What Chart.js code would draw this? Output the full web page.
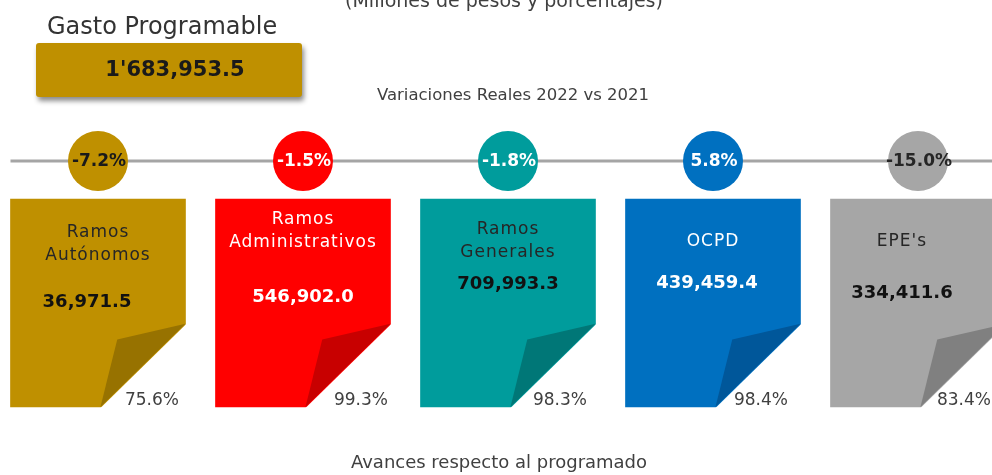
<!DOCTYPE html>
<html>
<head>
<meta charset="utf-8">
<script src="https://cdn.jsdelivr.net/npm/chart.js@4.4.1/dist/chart.umd.min.js"></script>
<style>
  html, body { margin: 0; padding: 0; background: #fff; overflow: hidden; }
  #wrap { position: relative; width: 992px; height: 475px; font-family: "DejaVu Sans", sans-serif; }
  #chart { position: absolute; left: 0; top: 0; }
  .t { position: absolute; white-space: nowrap; line-height: 1; color: #404040; }
  #box {
    position: absolute; left: 36px; top: 43px; width: 266px; height: 54px;
    background: #bf9000; border-radius: 3px;
    box-shadow: 2px 4px 5px rgba(0, 0, 0, 0.45);
  }
</style>
</head>
<body>
<div id="wrap">
  <canvas id="chart" width="992" height="475"></canvas>
  <div class="t" id="units" style="left:0;width:1008px;text-align:center;top:-9px;font-size:19px;">(Millones de pesos y porcentajes)</div>
  <div class="t" style="left:47px;top:14px;font-size:24px;color:#333;">Gasto Programable</div>
  <div id="box"></div>
  <div class="t" id="total" style="left:36px;width:278px;text-align:center;top:59px;font-size:21px;font-weight:bold;color:#1a1a1a;"></div>
  <div class="t" style="left:0;width:1026px;text-align:center;top:87px;font-size:16.5px;">Variaciones Reales 2022 vs 2021</div>
  <div class="t" style="left:0;width:998px;text-align:center;top:453px;font-size:18px;">Avances respecto al programado</div>
</div>
<script>
// datos
const categories = ["Ramos Autónomos", "Ramos Administrativos", "Ramos Generales", "OCPD", "EPE's"];
const nameLines = [["Ramos", "Autónomos"], ["Ramos", "Administrativos"], ["Ramos", "Generales"], ["OCPD"], ["EPE's"]];
const amounts = [36971.5, 546902.0, 709993.3, 439459.4, 334411.6];
const realVariation = [-7.2, -1.5, -1.8, 5.8, -15.0];
const progress = [75.6, 99.3, 98.3, 98.4, 83.4];
const totalProgrammed = 1683953.5;

// estilos
const cardColors = ["#bf9000", "#ff0000", "#009c9c", "#0070c0", "#a6a6a6"];
const foldColors = ["#977200", "#c80000", "#007777", "#00579a", "#808080"];
const cardText = ["#262626", "#ffffff", "#262626", "#ffffff", "#262626"];
const badgeText = ["#1a1a1a", "#ffffff", "#ffffff", "#ffffff", "#262626"];
// desplazamientos del texto dentro de cada tarjeta (px desde el borde superior / centro)
const nameTop = [34, 21, 31, 43, 43];
const valueTop = [103, 98, 85, 84, 94];
const textShift = [-11, 0, 0, -6, -16];
const pctShift = [54, 58, 52, 48, 46];

const cardLevel = [0, 1];
const badgeLevel = 1.183;

function fmt(v) {
  return v.toLocaleString("en-US", { minimumFractionDigits: 1, maximumFractionDigits: 1 });
}
function fmtTotal(v) {
  const s = fmt(v);
  const parts = s.split(",");
  if (parts.length > 2) return parts[0] + "'" + parts.slice(1).join(",");
  return s;
}
document.getElementById("total").textContent = fmtTotal(totalProgrammed);

const cardsPlugin = {
  id: "cards",
  beforeDatasetsDraw(chart) {
    const ctx = chart.ctx;
    const bars = chart.getDatasetMeta(0).data;
    const y = chart.scales.y.getPixelForValue(badgeLevel);
    const x0 = bars[0].x - bars[0].width / 2;
    ctx.save();
    ctx.strokeStyle = "#a5a5a5";
    ctx.lineWidth = 3;
    ctx.beginPath();
    ctx.moveTo(x0, y);
    ctx.lineTo(chart.chartArea.right, y);
    ctx.stroke();
    ctx.restore();
  },
  afterDatasetsDraw(chart) {
    const ctx = chart.ctx;
    const bars = chart.getDatasetMeta(0).data;
    const badges = chart.getDatasetMeta(1).data;
    ctx.save();
    bars.forEach((bar, i) => {
      const L = bar.x - bar.width / 2, R = bar.x + bar.width / 2;
      const T = Math.min(bar.y, bar.base), B = Math.max(bar.y, bar.base);
      const W = R - L, H = B - T;
      const tipY = B - 0.40 * H, footX = R - 0.486 * W;
      // esquina doblada
      ctx.fillStyle = "#ffffff";
      ctx.beginPath();
      ctx.moveTo(R + 1, tipY);
      ctx.lineTo(R + 1, B + 1);
      ctx.lineTo(footX, B + 1);
      ctx.closePath();
      ctx.fill();
      ctx.fillStyle = foldColors[i];
      ctx.beginPath();
      ctx.moveTo(R, tipY);
      ctx.lineTo(R - 0.39 * W, B - 0.325 * H);
      ctx.lineTo(footX, B);
      ctx.closePath();
      ctx.fill();

      // textos
      const cx = bar.x + textShift[i];
      ctx.textAlign = "center";
      ctx.textBaseline = "middle";
      ctx.fillStyle = cardText[i];
      ctx.font = '17px "DejaVu Sans"';
      ctx.letterSpacing = "1px";
      nameLines[i].forEach((ln, k) => {
        ctx.fillText(ln, (i === 4 ? cx : bar.x), T + nameTop[i] + k * 23);
      });
      ctx.letterSpacing = "0px";
      ctx.font = 'bold 18px "DejaVu Sans"';
      ctx.fillStyle = cardText[i] === "#ffffff" ? "#ffffff" : "#111111";
      ctx.fillText(fmt(amounts[i]), cx, T + valueTop[i]);

      ctx.font = '17px "DejaVu Sans"';
      ctx.fillStyle = "#404040";
      ctx.fillText(progress[i].toFixed(1) + "%", bar.x + pctShift[i], B - 6);
    });
    badges.forEach((pt, i) => {
      ctx.font = 'bold 17px "DejaVu Sans"';
      ctx.fillStyle = badgeText[i];
      ctx.textAlign = "center";
      ctx.textBaseline = "middle";
      ctx.fillText(realVariation[i].toFixed(1) + "%", pt.x + 1, pt.y + 1);
    });
    ctx.restore();
  }
};

new Chart(document.getElementById("chart"), {
  type: "bar",
  data: {
    datasets: [
      {
        label: "Tarjetas",
        data: categories.map((c, i) => ({ x: i, y: cardLevel })),
        backgroundColor: cardColors,
        borderWidth: 0,
        barThickness: 175,
        order: 2
      },
      {
        type: "scatter",
        label: "Variaciones Reales 2022 vs 2021",
        data: realVariation.map((v, i) => ({ x: i, y: badgeLevel })),
        backgroundColor: cardColors,
        borderWidth: 0,
        pointRadius: 30,
        pointHoverRadius: 30,
        clip: false,
        order: 1
      }
    ]
  },
  options: {
    responsive: false,
    animation: false,
    events: [],
    layout: { padding: 0, autoPadding: false },
    plugins: { legend: { display: false }, tooltip: { enabled: false }, title: { display: false } },
    scales: {
      x: { type: "linear", min: -0.478, max: 4.361, offset: false, display: false },
      y: { min: -0.327, max: 1.957, display: false }
    }
  },
  plugins: [cardsPlugin]
});
</script>
</body>
</html>
